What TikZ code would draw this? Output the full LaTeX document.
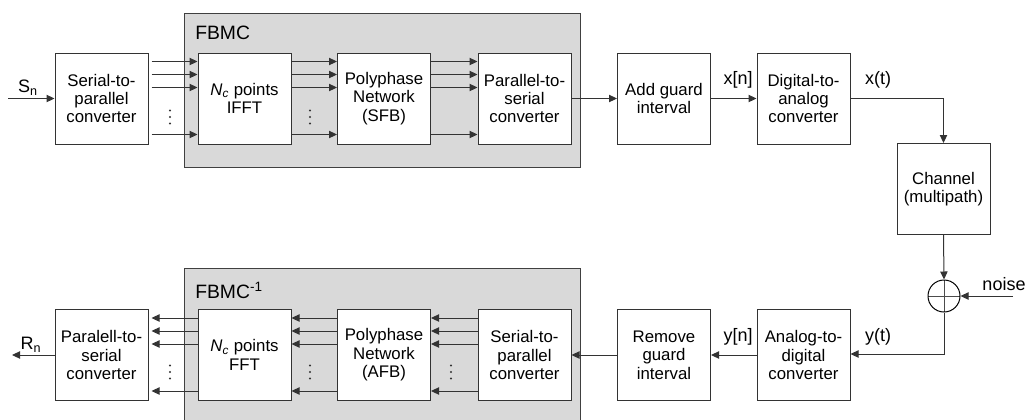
\documentclass[tikz,border=0pt]{standalone}
\usepackage{fontspec}
\setmainfont{Liberation Sans}
\usetikzlibrary{arrows.meta,calc}
\begin{document}
\begin{tikzpicture}[x=0.75pt,y=-0.75pt,
  txt/.style={font=\fontsize{12.6}{13.8}\selectfont},
  blk/.style={txt,draw=black!80,fill=white,line width=0.75pt,
    minimum width=69.75pt,minimum height=68.25pt,inner sep=0pt,align=center},
  grp/.style={draw=black!75,fill=black!15,line width=0.75pt,inner sep=0pt},
  conn/.style={draw=black!80,line width=0.75pt,-{Triangle[length=6pt,width=5.5pt]}},
  sumnode/.style={draw=black,line width=0.75pt,circle,minimum size=24pt,inner sep=0pt,
    path picture={\draw[black!70,line width=0.75pt]
      (path picture bounding box.west) -- (path picture bounding box.east)
      (path picture bounding box.north) -- (path picture bounding box.south);}},
  lbl/.style={font=\fontsize{13.5}{15}\selectfont,inner sep=0pt},
  dot/.style={fill=black!80}]
\clip (0,0) rectangle (1025,419);
\useasboundingbox (0,0) rectangle (1025,419);

% filter-bank groups
\node[grp,minimum width=297pt,minimum height=115.5pt] (fbmc) at (382,90) {};
\node[grp,minimum width=297pt,minimum height=121.5pt] (ifbmc) at (382,349) {};
\node[lbl,anchor=west] (fbmct) at (195,33) {\fontsize{14.5}{16}\selectfont FBMC};
\node[lbl,anchor=west] (ifbmct) at (195,290) {\fontsize{14.5}{16}\selectfont FBMC\textsuperscript{-1}};

% transmitter chain
\node[blk] (sp)   at (101.5,98.5) {Serial-to-\\parallel\\converter};
\node[blk] (ifft) at (244.5,98.5) {\textit{N}\textsubscript{\textit{c}} points\\IFFT};
\node[blk] (sfb)  at (384,98.5)   {Polyphase\\Network\\(SFB)};
\node[blk] (ps)   at (524.5,98.5) {Parallel-to-\\serial\\converter};
\node[blk] (agi)  at (664,98.5)   {Add guard\\interval};
\node[blk] (dac)  at (803.5,98.5) {Digital-to-\\analog\\converter};
\node[blk] (chan) at (943.5,189)  {Channel\\(multipath)};
\node[sumnode] (sum) at (944,296) {};

% receiver chain
\node[blk] (adc)  at (803.5,355) {Analog-to-\\digital\\converter};
\node[blk] (rgi)  at (664,355)   {Remove\\guard\\interval};
\node[blk] (rsp)  at (524.5,355) {Serial-to-\\parallel\\converter};
\node[blk] (afb)  at (384,355)   {Polyphase\\Network\\(AFB)};
\node[blk] (fft)  at (244.5,355) {\textit{N}\textsubscript{\textit{c}} points\\FFT};
\node[blk] (rps)  at (101.5,355) {Paralell-to-\\serial\\converter};

% input / output
\coordinate (sin) at (8,98.5);
\coordinate (rout) at (12,355);
\coordinate (nin) at (1013,296);
\coordinate (ybend) at (944,354);
\draw[conn] (sin) -- (sp.west);
\node[lbl] (sn) at (28,88) {S\textsubscript{n}};
\draw[conn] (rps.west) -- (rout);
\node[lbl] (rn) at (31,345) {R\textsubscript{n}};

% parallel branches
\foreach \d in {9,22,35,82} {
  \draw[conn] ($(sp.north east)+(3,\d)$) -- ($(ifft.north west)+(0,\d)$);
  \draw[conn] ($(ifft.north east)+(0,\d)$) -- ($(sfb.north west)+(0,\d)$);
  \draw[conn] ($(sfb.north east)+(0,\d)$) -- ($(ps.north west)+(0,\d)$);
  \draw[conn] ($(fft.north west)+(0,\d)$) -- ($(rps.north east)+(3,\d)$);
  \draw[conn] ($(afb.north west)+(0,\d)$) -- ($(fft.north east)+(0,\d)$);
  \draw[conn] ($(rsp.north west)+(0,\d)$) -- ($(afb.north east)+(0,\d)$);
}
% ellipsis between branches
\foreach \x/\y in {170/117,310/117,170/372,310/372,451/372} {
  \foreach \k in {-6.5,0,6.5} \fill[dot] (\x,\y+\k) circle (1.2);
}

% serial links
\draw[conn] (ps) -- (agi);
\draw[conn] (agi) -- (dac);
\node[lbl] (xn) at (738,80) {x[n]};
\draw[conn] (dac.east) -| (chan.north);
\node[lbl] (xt) at (878,80) {x(t)};
\draw[conn] (chan.south) -- (sum.north);
\draw[conn] (nin) -- (sum.east);
\node[lbl] (noise) at (1004,284) {noise};
\draw[conn] (sum.south) -- (ybend) -- (adc.east |- ybend);
\node[lbl] (yt) at (878,337) {y(t)};
\draw[conn] (adc) -- (rgi);
\node[lbl] (yn) at (738,337) {y[n]};
\draw[conn] (rgi) -- (rsp);
\end{tikzpicture}
\end{document}
